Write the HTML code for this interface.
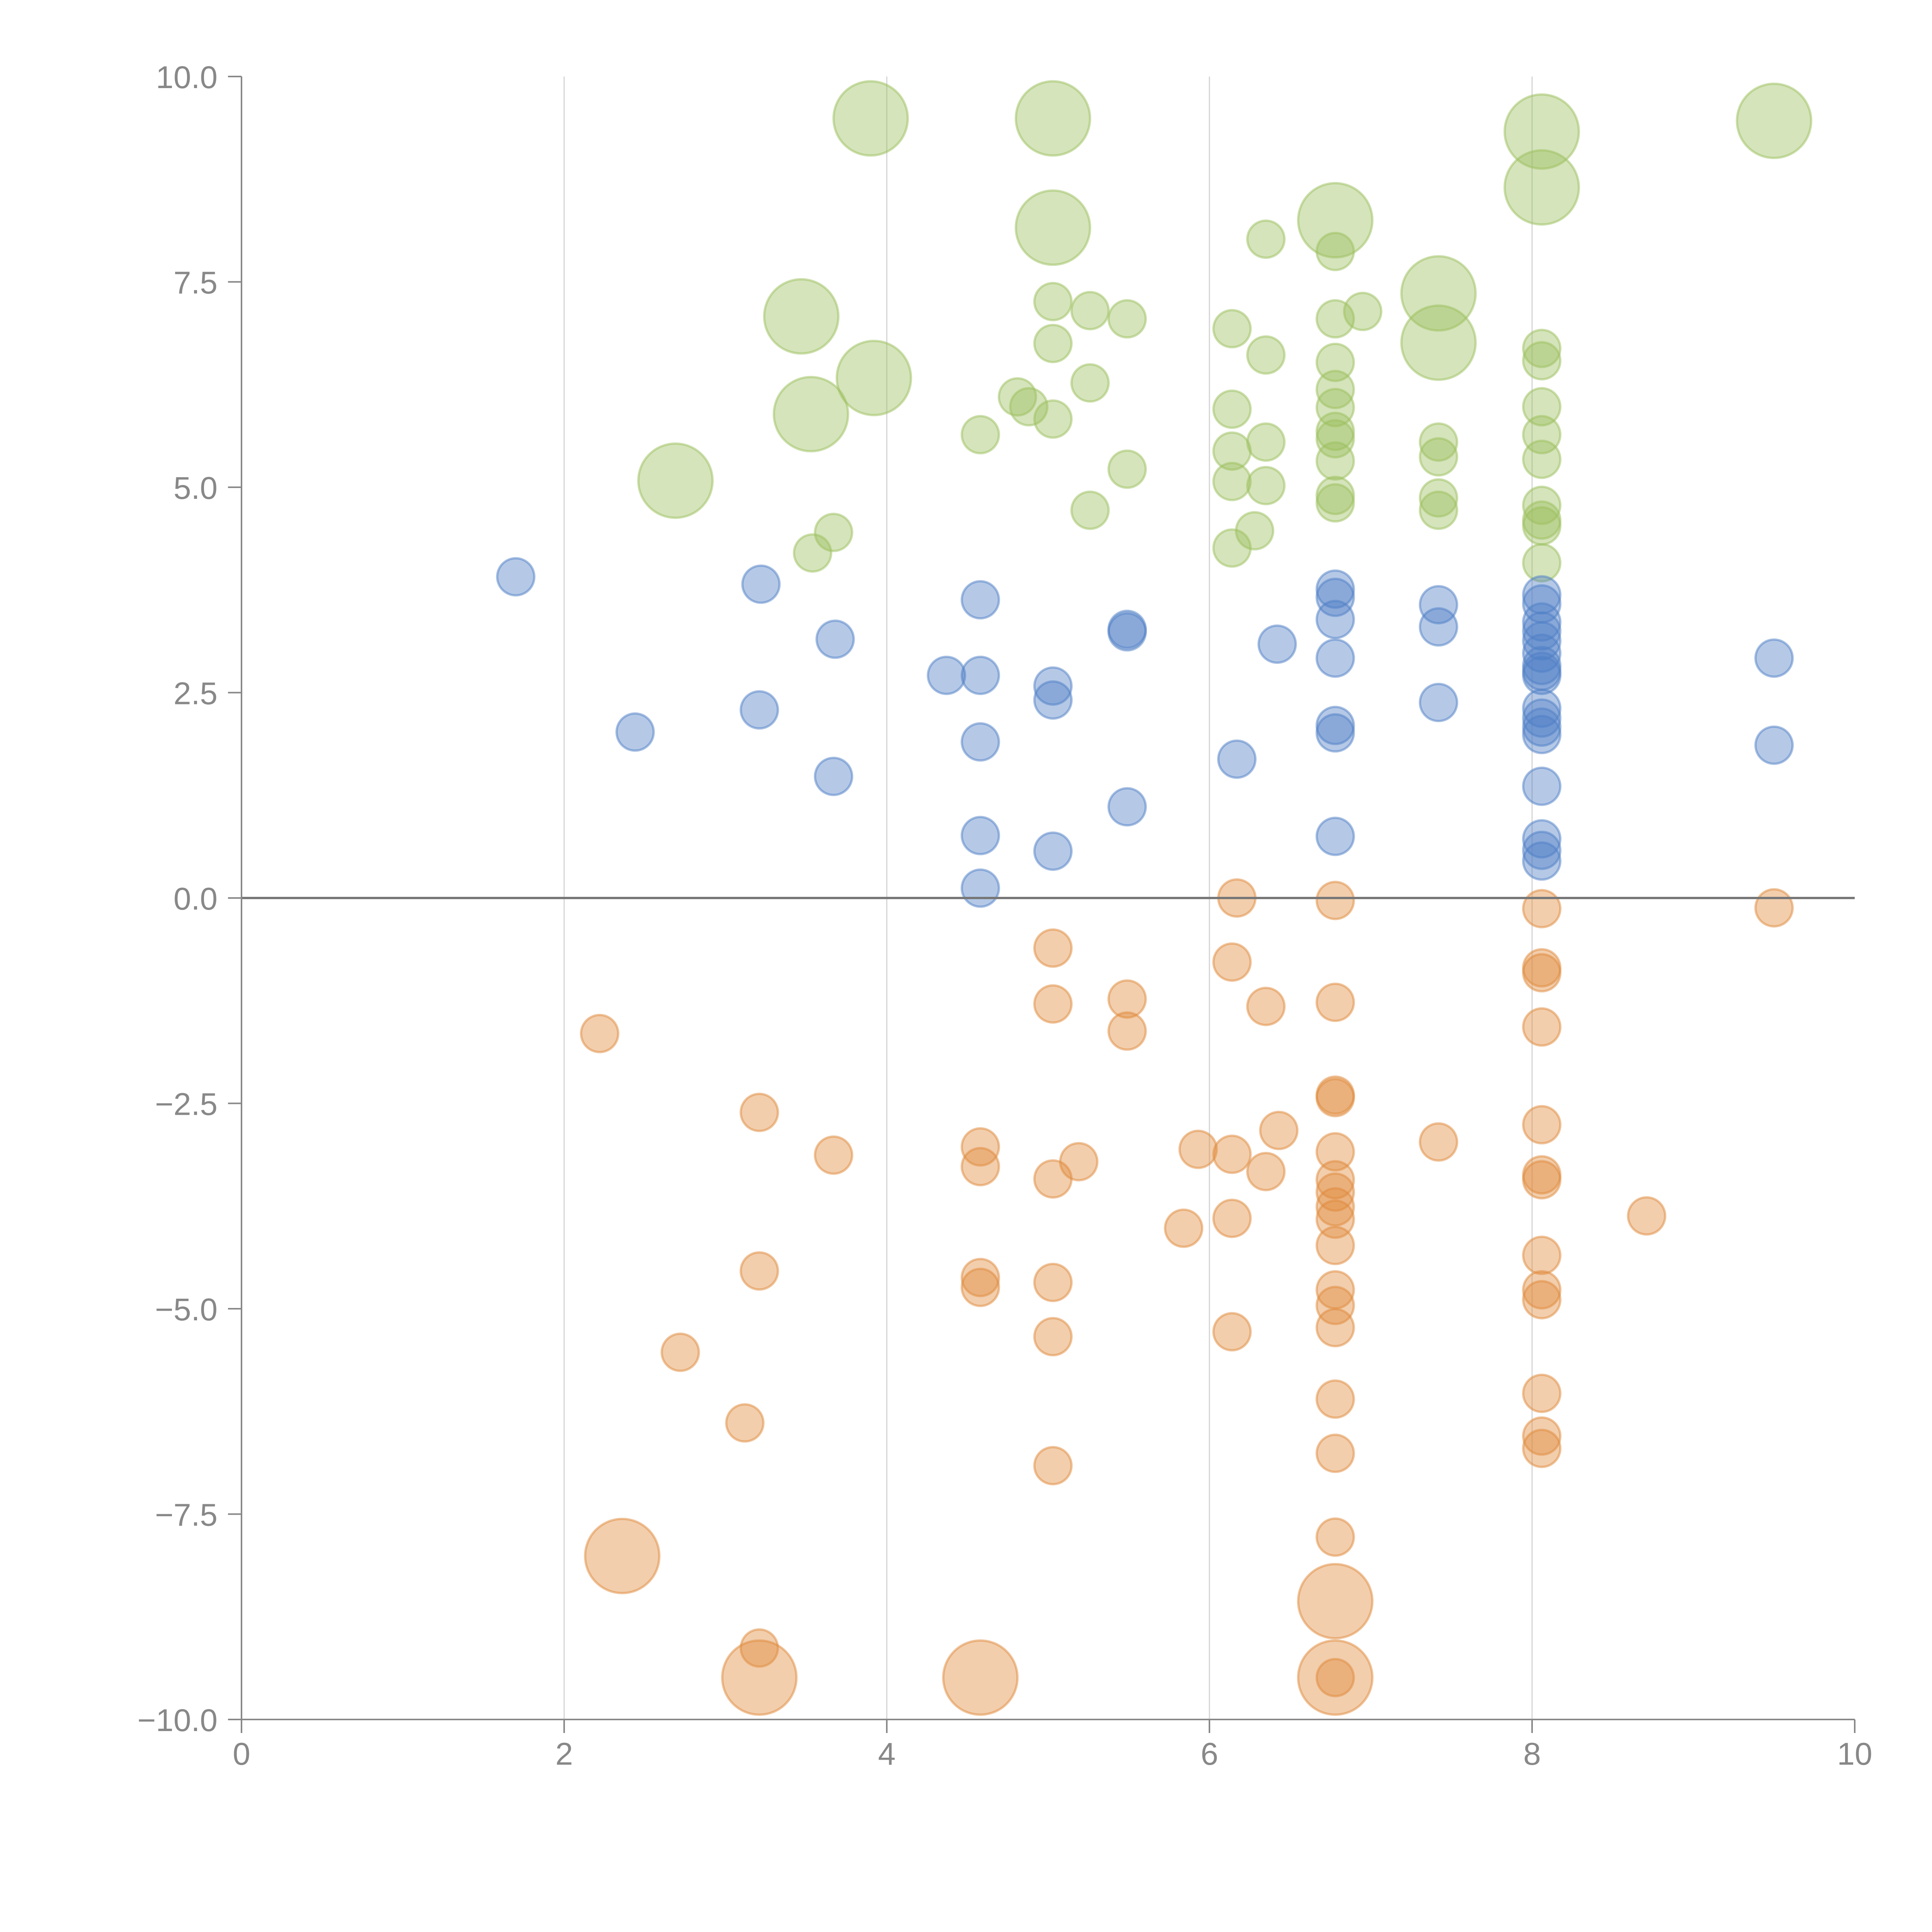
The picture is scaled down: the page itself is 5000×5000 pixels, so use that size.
<!DOCTYPE html>
<html><head><meta charset="utf-8"><style>
html,body{margin:0;padding:0;background:#fff;}
svg{display:block;font-family:"Liberation Sans",Arial,sans-serif;}
</style></head><body>
<svg id="chart" width="5000" height="5000" viewBox="0 0 5000 5000" xmlns="http://www.w3.org/2000/svg">
<rect width="5000" height="5000" fill="#fff"/>
<g id="grid"></g>
<g id="marks"></g>
<g id="axes"></g>
</svg>
<script>
const xTicks = [0, 2, 4, 6, 8, 10];
const yTicks = [-10, -7.5, -5, -2.5, 0, 2.5, 5, 7.5, 10];
const yTickLabels = ["−10.0", "−7.5", "−5.0", "−2.5", "0.0", "2.5", "5.0", "7.5", "10.0"];
const gridX = [2, 4, 6, 8];

const greenX = [3.90,5.03,8.06,9.50,8.06,6.78,5.03,6.35,6.78,3.47,7.42,7.42,5.03,5.26,5.49,5.03,6.14,6.78,6.95,6.35,3.92,3.53,5.26,4.81,4.88,5.03,4.58,6.14,6.14,6.35,6.78,6.78,6.78,6.78,6.78,6.78,6.78,6.78,7.42,7.42,7.42,7.42,8.06,8.06,8.06,8.06,8.06,8.06,8.06,8.06,8.06,2.69,5.49,5.26,6.14,6.35,6.28,6.14,3.67,3.54];
const greenY = [9.49,9.49,9.33,9.46,8.65,8.25,8.16,8.02,7.87,7.08,7.36,6.76,7.26,7.15,7.05,6.75,6.93,7.05,7.14,6.61,6.33,5.89,6.27,6.10,5.98,5.83,5.64,5.95,5.44,5.55,6.52,6.19,5.97,5.68,5.59,5.32,4.90,4.81,5.55,5.37,4.87,4.72,6.69,6.54,5.98,5.64,5.34,4.78,4.60,4.53,4.08,5.08,5.22,4.72,5.07,5.02,4.47,4.26,4.45,4.20];
const greenSize = [4,4,4,4,4,4,4,1,1,4,4,4,1,1,1,1,1,1,1,1,4,4,1,1,1,1,1,1,1,1,1,1,1,1,1,1,1,1,1,1,1,1,1,1,1,1,1,1,1,1,1,4,1,1,1,1,1,1,1,1];

const blueX = [1.70,3.22,4.58,3.68,4.37,4.58,5.03,5.03,5.49,5.49,6.42,6.78,6.78,6.78,6.78,6.78,6.78,7.42,7.42,7.42,8.06,8.06,8.06,8.06,8.06,8.06,8.06,8.06,8.06,8.06,8.06,8.06,8.06,8.06,8.06,8.06,8.06,9.50,9.50,2.44,3.21,3.67,4.58,6.17,5.49,4.58,5.03,4.58,6.78];
const blueY = [3.91,3.82,3.63,3.15,2.71,2.71,2.58,2.41,3.27,3.24,3.09,3.76,3.66,3.39,2.92,2.10,2.01,3.57,3.30,2.38,3.69,3.58,3.36,3.25,3.13,2.98,2.83,2.76,2.71,2.31,2.19,2.08,1.99,1.36,0.72,0.58,0.45,2.92,1.86,2.02,2.29,1.48,1.90,1.69,1.11,0.76,0.57,0.12,0.75];

const orangeX = [6.17,6.78,8.06,9.50,5.03,6.14,8.06,8.06,5.03,5.49,5.49,6.35,6.78,8.06,2.22,3.21,6.78,6.78,6.43,8.06,7.42,3.67,4.58,4.58,5.19,5.03,5.93,6.14,6.35,6.78,6.78,6.78,6.78,6.78,6.78,8.06,8.06,8.71,5.84,6.14,8.06,3.21,4.58,4.58,5.03,6.78,6.78,6.78,8.06,8.06,6.14,5.03,2.72,8.06,6.78,3.12,8.06,8.06,6.78,5.03,6.78,2.36,6.78,3.21,3.21,4.58,6.78,6.78];
const orangeY = [0.0,-0.03,-0.13,-0.12,-0.61,-0.78,-0.85,-0.91,-1.29,-1.23,-1.62,-1.32,-1.27,-1.57,-1.65,-2.61,-2.40,-2.43,-2.83,-2.76,-2.97,-3.13,-3.03,-3.27,-3.21,-3.42,-3.06,-3.12,-3.33,-3.09,-3.43,-3.58,-3.76,-3.91,-4.23,-3.37,-3.43,-3.87,-4.02,-3.90,-4.35,-4.54,-4.62,-4.74,-4.68,-4.77,-4.96,-5.23,-4.77,-4.89,-5.28,-5.34,-5.53,-6.03,-6.10,-6.39,-6.55,-6.70,-6.76,-6.91,-7.78,-8.01,-8.56,-9.13,-9.49,-9.49,-9.49,-9.49];
const orangeSize = [1,1,1,1,1,1,1,1,1,1,1,1,1,1,1,1,1,1,1,1,1,1,1,1,1,1,1,1,1,1,1,1,1,1,1,1,1,1,1,1,1,1,1,1,1,1,1,1,1,1,1,1,1,1,1,1,1,1,1,1,1,4,4,1,4,4,4,1];

const NS = "http://www.w3.org/2000/svg";
const X0 = 625, X1 = 4800, Y0 = 4450, Y1 = 198;
function sx(v){ return X0 + (v - 0) / 10 * (X1 - X0); }
function sy(v){ return Y0 - (v + 10) / 20 * (Y0 - Y1); }
function sr(s){ return 48 * Math.sqrt(s); }
function mk(tag, attrs, parent){
  const e = document.createElementNS(NS, tag);
  for (const k in attrs) e.setAttribute(k, attrs[k]);
  parent.appendChild(e);
  return e;
}
const grid = document.getElementById('grid');
const marks = document.getElementById('marks');
const axes = document.getElementById('axes');

gridX.forEach(v => {
  const l = mk('line', {x1: sx(v), x2: sx(v), y1: Y1, y2: Y0, stroke: '#d4d4d4', 'stroke-width': 3}, grid);
  
  
});

function drawSeries(xs, ys, sizes, base, name){
  xs.forEach((x, i) => {
    const c = mk('circle', {cx: sx(x), cy: sy(ys[i]), r: sr(sizes ? sizes[i] : 1),
      fill: base, 'fill-opacity': 0.42, stroke: base, 'stroke-opacity': 0.5, 'stroke-width': 6}, marks);
    
    
  });
}
drawSeries(greenX, greenY, greenSize, '#9bbf5e', 'bubble-positive-high');
drawSeries(blueX, blueY, null, '#4f7fc6', 'bubble-positive-low');
drawSeries(orangeX, orangeY, orangeSize, '#e08a3c', 'bubble-negative');

const zl = mk('line', {x1: X0, x2: X1, y1: sy(0), y2: sy(0), stroke: '#777', 'stroke-width': 6}, axes);



const ya = mk('line', {x1: X0, x2: X0, y1: Y1, y2: Y0, stroke: '#888', 'stroke-width': 4}, axes);


const xa = mk('line', {x1: X0, x2: X1, y1: Y0, y2: Y0, stroke: '#888', 'stroke-width': 4}, axes);



yTicks.forEach((v, i) => {
  const t = mk('line', {x1: X0 - 35, x2: X0, y1: sy(v), y2: sy(v), stroke: '#888', 'stroke-width': 4}, axes);
  
  
  const tx = mk('text', {x: X0 - 62, y: sy(v) + 30, 'text-anchor': 'end', 'font-size': 82, fill: '#888'}, axes);
  tx.textContent = yTickLabels[i];
  
  
});
xTicks.forEach(v => {
  const t = mk('line', {x1: sx(v), x2: sx(v), y1: Y0, y2: Y0 + 35, stroke: '#888', 'stroke-width': 4}, axes);
  
  
  const tx = mk('text', {x: sx(v), y: Y0 + 117, 'text-anchor': 'middle', 'font-size': 82, fill: '#888'}, axes);
  tx.textContent = String(v);
  
  
});
</script>
</body></html>
